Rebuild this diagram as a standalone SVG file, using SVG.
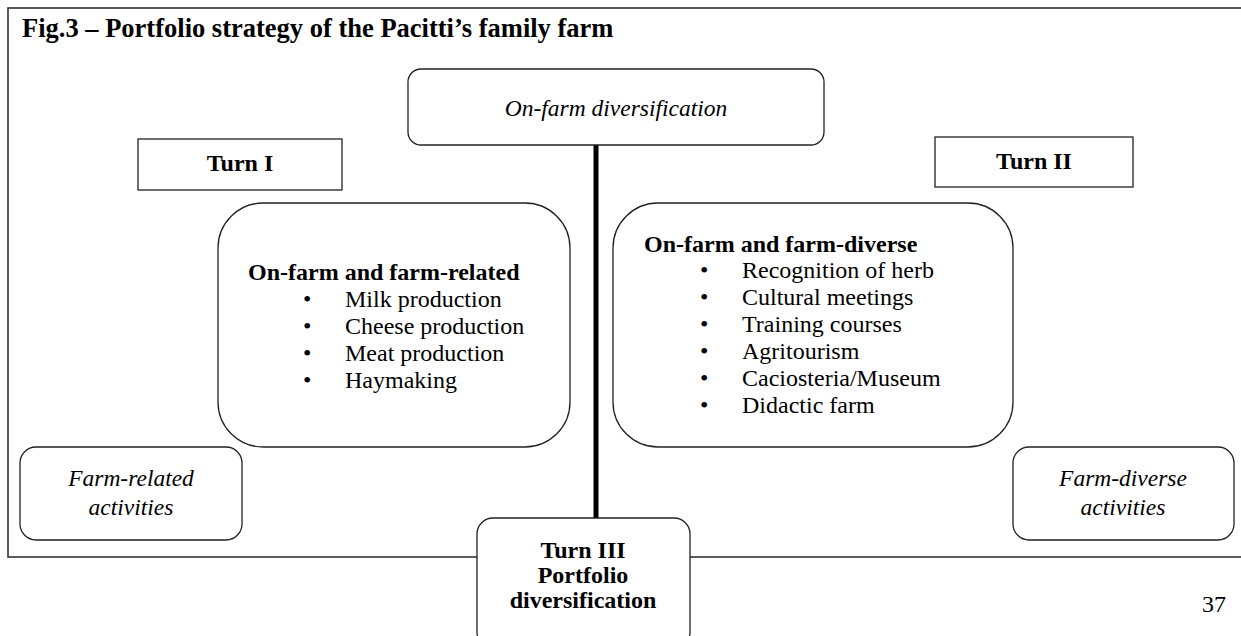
<svg xmlns="http://www.w3.org/2000/svg" width="1241" height="636" viewBox="0 0 1241 636">
<style>
text{font-family:"Liberation Serif","Times New Roman",serif;fill:#000}
.b{font-weight:bold;font-size:24px}
.r{font-size:24px}
.i{font-style:italic;font-size:23.5px}
.c{text-anchor:middle}
.box{fill:#fff;stroke:#222;stroke-width:1.3}
</style>
<rect x="8" y="8" width="1240" height="549" fill="#fff" stroke="#333" stroke-width="1.6"/>
<text x="22" y="37" font-weight="bold" font-size="26.5">Fig.3 – Portfolio strategy of the Pacitti’s family farm</text>
<g id="connectors">
<line x1="596" y1="145" x2="596" y2="518" stroke="#000" stroke-width="5"/>
</g>
<g id="onfarm">
<rect class="box" x="408" y="69" width="416" height="76" rx="13"/>
<text class="i c" x="616" y="116">On-farm diversification</text>
</g>
<g id="turn1">
<rect class="box" x="138" y="139" width="204" height="51"/>
<text class="b c" x="240" y="171">Turn I</text>
</g>
<g id="turn2">
<rect class="box" x="935" y="137" width="198" height="50"/>
<text class="b c" x="1034" y="169">Turn II</text>
</g>
<g id="related">
<rect class="box" x="218" y="203" width="352" height="244" rx="45"/>
<text class="b" x="248" y="280">On-farm and farm-related</text>
<g class="r">
<text x="303" y="307">•</text><text x="345" y="307">Milk production</text>
<text x="303" y="334">•</text><text x="345" y="334">Cheese production</text>
<text x="303" y="361">•</text><text x="345" y="361">Meat production</text>
<text x="303" y="388">•</text><text x="345" y="388">Haymaking</text>
</g>
</g>
<g id="diverse">
<rect class="box" x="613" y="203" width="400" height="244" rx="45"/>
<text class="b" x="644" y="252">On-farm and farm-diverse</text>
<g class="r">
<text x="700" y="278">•</text><text x="742" y="278">Recognition of herb</text>
<text x="700" y="305">•</text><text x="742" y="305">Cultural meetings</text>
<text x="700" y="332">•</text><text x="742" y="332">Training courses</text>
<text x="700" y="359">•</text><text x="742" y="359">Agritourism</text>
<text x="700" y="386">•</text><text x="742" y="386">Caciosteria/Museum</text>
<text x="700" y="413">•</text><text x="742" y="413">Didactic farm</text>
</g>
</g>
<g id="farmrelated">
<rect class="box" x="20" y="447" width="222" height="93" rx="16"/>
<text class="i c" x="131" y="486">Farm-related</text>
<text class="i c" x="131" y="515">activities</text>
</g>
<g id="farmdiverse">
<rect class="box" x="1013" y="447" width="221" height="93" rx="16"/>
<text class="i c" x="1123" y="486">Farm-diverse</text>
<text class="i c" x="1123" y="515">activities</text>
</g>
<g id="turn3">
<rect class="box" x="477" y="518" width="213" height="130" rx="16"/>
<text class="b c" x="583" y="558">Turn III</text>
<text class="b c" x="583" y="583">Portfolio</text>
<text class="b c" x="583" y="608">diversification</text>
</g>
<text class="r" x="1202" y="612">37</text>
</svg>
